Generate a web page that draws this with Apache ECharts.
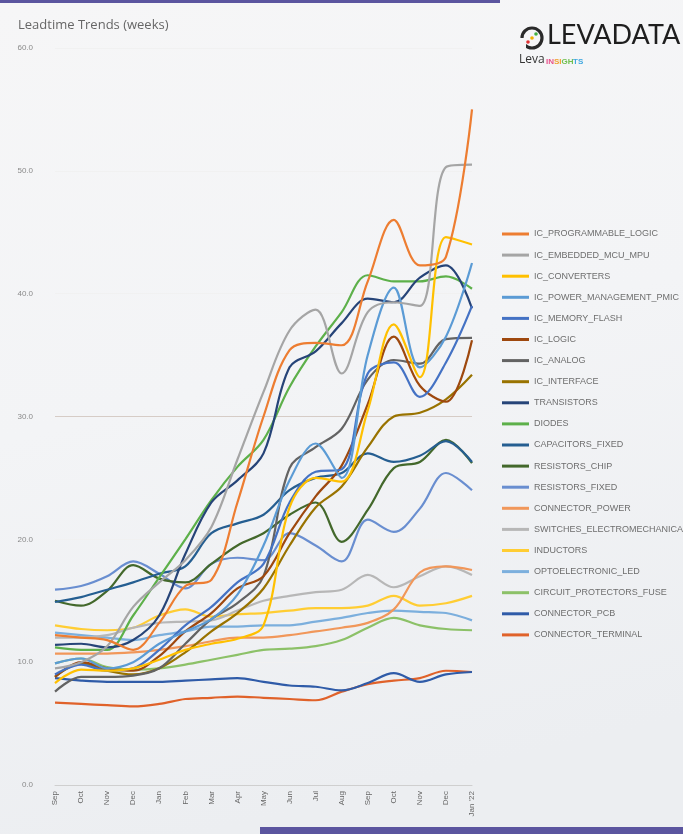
<!DOCTYPE html>
<html>
<head>
<meta charset="utf-8">
<script src="https://cdn.jsdelivr.net/npm/echarts@6/dist/echarts.min.js"></script>
<style>
html,body{margin:0;padding:0;background:#f3f4f6;}
#chart{width:683px;height:834px;}
</style>
</head>
<body>
<div id="chart"></div>
<script>
const categories = ['Sep','Oct','Nov','Dec','Jan','Feb','Mar','Apr','May','Jun','Jul','Aug','Sep','Oct','Nov','Dec',"Jan '22"];

const icProgrammableLogic = [12.2,12.0,11.8,11.0,13.2,16.2,16.7,23.0,30.0,35.4,36.0,35.8,41.0,46.0,42.3,43.0,55.0];
const icEmbeddedMcuMpu    = [9.5,10.0,11.3,14.5,16.5,18.3,21.0,26.5,32.0,37.0,38.7,33.5,38.5,39.3,39.0,50.3,50.5];
const icConverters        = [8.3,9.4,9.3,9.5,10.2,11.0,11.5,11.9,13.0,22.6,25.0,24.7,30.5,37.5,33.2,44.6,44.0];
const icPowerManagement   = [9.9,10.3,9.5,10.0,11.5,12.5,13.5,15.5,19.5,24.8,27.8,25.0,35.0,40.5,34.0,36.5,42.5];
const icMemoryFlash       = [9.0,9.8,9.3,9.5,11.0,13.0,14.5,16.5,18.0,23.0,25.5,25.7,33.5,34.4,31.6,34.4,39.0];
const icLogic             = [8.8,10.0,9.5,9.3,10.5,12.5,14.0,16.0,17.0,20.5,23.5,26.0,31.0,36.5,32.5,31.2,36.2];
const icAnalog            = [7.6,8.8,8.8,8.9,9.5,11.5,13.5,14.8,17.0,25.8,27.5,29.0,33.0,34.6,34.3,36.3,36.4];
const icInterface         = [8.8,9.9,9.3,9.0,9.5,10.8,12.5,14.0,16.0,19.5,22.6,24.3,27.5,30.0,30.3,31.4,33.4];
const transistors         = [11.4,11.5,11.2,11.8,13.8,18.8,23.0,24.8,27.0,34.0,35.3,37.6,39.6,39.3,41.3,42.3,38.8];
const diodes              = [11.2,11.0,11.0,13.8,16.9,20.0,23.2,25.9,28.1,32.4,35.7,38.5,41.5,41.0,41.0,41.4,40.4];
const capacitorsFixed     = [14.9,15.3,15.9,16.5,17.2,17.8,20.5,21.3,22.0,24.0,25.0,25.4,27.0,26.3,26.8,28.0,26.3];
const resistorsChip       = [15.0,14.6,15.8,17.9,16.8,16.5,18.0,19.5,20.5,22.0,23.0,19.8,22.4,25.8,26.3,28.1,26.2];
const resistorsFixed      = [15.9,16.2,17.0,18.2,17.2,16.0,18.0,18.5,18.3,20.5,19.5,18.2,21.6,20.6,22.5,25.4,24.0];
const connectorPower      = [10.7,10.7,10.7,10.8,11.0,11.3,11.7,12.0,12.0,12.2,12.5,12.8,13.2,14.3,17.3,17.8,17.5];
const switchesElectromech = [12.0,12.0,12.2,12.8,13.2,13.3,13.4,14.2,15.0,15.4,15.7,15.9,17.1,16.1,17.0,17.8,17.1];
const inductors           = [13.0,12.7,12.6,12.8,13.8,14.3,13.7,13.9,14.0,14.2,14.4,14.4,14.6,15.4,14.6,14.8,15.4];
const optoelectronicLed   = [12.4,12.2,12.0,11.8,12.2,12.5,12.9,12.9,13.0,13.0,13.3,13.6,14.0,14.2,14.1,14.0,13.4];
const circuitProtectors   = [9.9,10.3,9.6,9.4,9.5,9.8,10.2,10.6,11.0,11.1,11.3,11.8,12.8,13.6,13.0,12.7,12.6];
const connectorPcb        = [8.7,8.5,8.4,8.4,8.4,8.5,8.6,8.7,8.4,8.1,8.0,7.7,8.3,9.1,8.4,9.0,9.2];
const connectorTerminal   = [6.7,6.6,6.5,6.4,6.6,7.0,7.1,7.2,7.1,7.0,6.9,7.6,8.2,8.5,8.7,9.3,9.2];

const seriesNames = ['IC_PROGRAMMABLE_LOGIC','IC_EMBEDDED_MCU_MPU','IC_CONVERTERS','IC_POWER_MANAGEMENT_PMIC','IC_MEMORY_FLASH','IC_LOGIC','IC_ANALOG','IC_INTERFACE','TRANSISTORS','DIODES','CAPACITORS_FIXED','RESISTORS_CHIP','RESISTORS_FIXED','CONNECTOR_POWER','SWITCHES_ELECTROMECHANICAL','INDUCTORS','OPTOELECTRONIC_LED','CIRCUIT_PROTECTORS_FUSE','CONNECTOR_PCB','CONNECTOR_TERMINAL'];
const seriesValues = [icProgrammableLogic,icEmbeddedMcuMpu,icConverters,icPowerManagement,icMemoryFlash,icLogic,icAnalog,icInterface,transistors,diodes,capacitorsFixed,resistorsChip,resistorsFixed,connectorPower,switchesElectromech,inductors,optoelectronicLed,circuitProtectors,connectorPcb,connectorTerminal];
const seriesColors = ['#ED7D31','#A5A5A5','#FFC000','#5B9BD5','#4472C4','#9E480E','#636363','#997300','#264478','#5DB04A','#255E91','#43682B','#698ED0','#F1975A','#B7B7B7','#FFCD33','#7CAFDD','#8CC168','#2F5BA8','#E0622A'];

const chart = echarts.init(document.getElementById('chart'), null, {renderer:'canvas'});

const series = seriesNames.map((n,i)=>({
  name:n, type:'line', smooth:0.35, symbol:'none', data:seriesValues[i],
  lineStyle:{width:2.2, color:seriesColors[i]}, itemStyle:{color:seriesColors[i]},
  z: 2 + (20 - i)
}));

chart.setOption({
  backgroundColor:{type:'linear',x:0,y:0,x2:0.3,y2:1,colorStops:[{offset:0,color:'#f6f6f7'},{offset:0.5,color:'#f3f4f6'},{offset:1,color:'#eceef1'}]},
  animation:false,
  color: seriesColors,
  grid:{left:55,right:211,top:48,bottom:49,containLabel:false},
  legend:{
    orient:'vertical', left:497, top:223, itemGap:9.1, itemWidth:27, itemHeight:3, icon:'rect',
    textStyle:{fontSize:9, color:'#6e6e6e', fontFamily:'Liberation Sans', lineHeight:12},
    data: seriesNames
  },
  xAxis:{
    type:'category', data:categories, boundaryGap:false,
    axisLine:{show:true, lineStyle:{color:'#cfcfcf'}},
    axisTick:{show:false},
    axisLabel:{rotate:90, fontSize:8, color:'#666', margin:6, interval:0, fontFamily:'Liberation Sans'}
  },
  yAxis:{
    type:'value', min:0, max:60, interval:10,
    axisLine:{show:false}, axisTick:{show:false},
    axisLabel:{fontSize:8, color:'#8a8a8a', margin:22, formatter:v=>v.toFixed(1), fontFamily:'Liberation Sans'},
    splitLine:{show:true, lineStyle:{width:1, color:['rgba(0,0,0,0)','#f1f1f1','#f1f1f1','#d6ccc6','#f1f1f1','#f1f1f1','#f1f1f1']}}
  },
  series: series,
  graphic:[
    {type:'rect', left:0, top:0, shape:{width:500, height:3}, style:{fill:'#5b559f'}, silent:true},
    {type:'rect', left:260, top:827, shape:{width:423, height:7}, style:{fill:'#5b559f'}, silent:true},
    {type:'text', left:18, top:19, style:{text:'Leadtime Trends (weeks)', fontSize:13, fill:'#666', fontFamily:'Open Sans'}},
    {type:'circle', shape:{cx:532, cy:38, r:10}, style:{fill:'none', stroke:'#2a2a2a', lineWidth:3.2}},
    {type:'rect', shape:{x:519, y:38, width:7, height:13}, style:{fill:'#f5f5f6'}},
    {type:'circle', shape:{cx:528, cy:42, r:1.8}, style:{fill:'#e03030'}},
    {type:'circle', shape:{cx:532, cy:38, r:1.8}, style:{fill:'#f0b000'}},
    {type:'circle', shape:{cx:536, cy:34, r:1.8}, style:{fill:'#40b040'}},
    {type:'text', left:547, top:22, style:{text:'LEVADATA', fontSize:27, fill:'#1e1e1e', fontFamily:'Lato'}},
    {type:'text', left:519, top:54, style:{text:'Leva', fontSize:12, fill:'#333', fontFamily:'Open Sans'}},
    {type:'text', left:546, top:58, style:{text:'IN', fontSize:8, fill:'#e8508a', fontFamily:'Liberation Sans', fontWeight:'bold'}},
    {type:'text', left:554, top:58, style:{text:'SI', fontSize:8, fill:'#f0a030', fontFamily:'Liberation Sans', fontWeight:'bold'}},
    {type:'text', left:561.5, top:58, style:{text:'GH', fontSize:8, fill:'#70c050', fontFamily:'Liberation Sans', fontWeight:'bold'}},
    {type:'text', left:573, top:58, style:{text:'TS', fontSize:8, fill:'#40a8e0', fontFamily:'Liberation Sans', fontWeight:'bold'}}
  ]
});
</script>
</body>
</html>
